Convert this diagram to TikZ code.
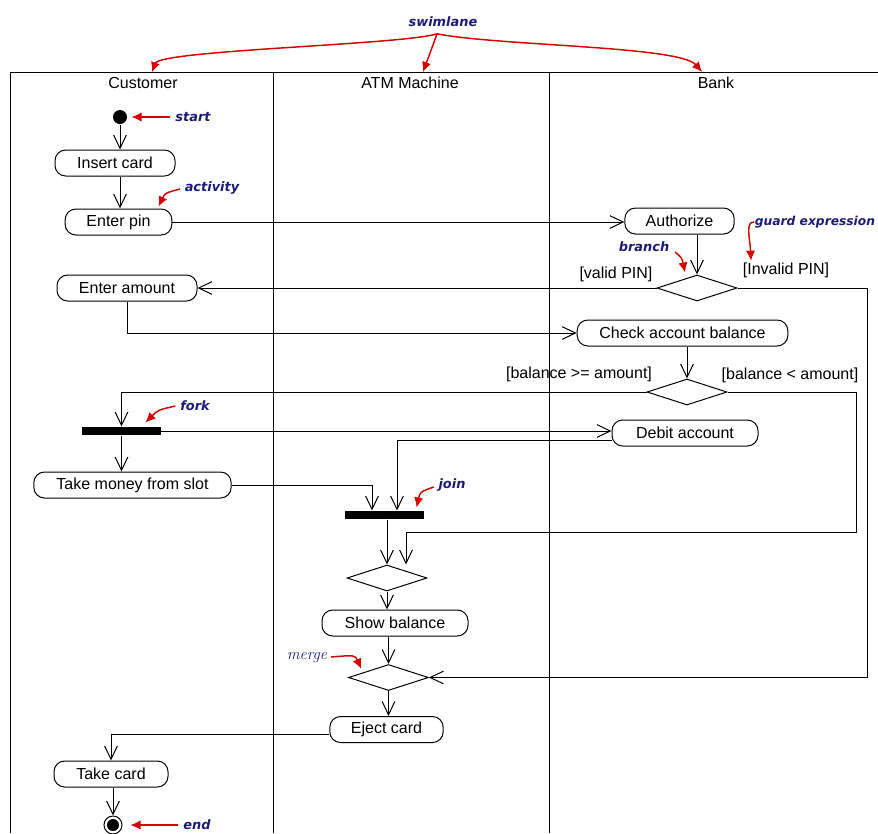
\documentclass[tikz,border=0pt]{standalone}
\usepackage{fontspec}
\setmainfont{Liberation Sans}
\newfontfamily\notefont{DejaVu Sans}
\newfontfamily\mergefont{Latin Modern Roman}
\usetikzlibrary{arrows.meta,shapes.geometric,calc}
\definecolor{notecol}{RGB}{28,28,120}
\definecolor{pointcol}{RGB}{214,0,0}

\tikzset{
  activity/.style={draw, rectangle, rounded corners=8pt, minimum height=19.5pt, inner xsep=0pt, font=\fontsize{12}{14}\selectfont},
  decision/.style={draw, diamond, minimum width=60pt, minimum height=19.5pt, inner sep=0pt},
  syncbar/.style={fill=black, minimum width=59pt, minimum height=6pt, inner sep=0pt},
  startdot/.style={circle, fill=black, minimum size=10.5pt, inner sep=0pt},
  enddot/.style={circle, draw, minimum size=13.5pt, inner sep=0pt, path picture={\fill (path picture bounding box.center) circle (4.5pt);}},
  flow/.style={-{Straight Barb[length=10pt,width=9.5pt]}},
  pointer/.style={draw=pointcol, line width=1.1pt, -{Latex[length=7.5pt,width=7pt]}},
  tag/.style={text=notecol, inner sep=1pt, font=\notefont\bfseries\itshape\fontsize{9.7}{11}\selectfont},
  guard/.style={inner sep=1pt, font=\fontsize{12}{14}\selectfont},
  lanetitle/.style={inner sep=2pt, font=\fontsize{12}{14}\selectfont},
}

\begin{document}
\begin{tikzpicture}[x=0.75pt,y=0.75pt,yscale=-1,xscale=1,line width=0.75pt]
\useasboundingbox (0,0) rectangle (878,833);

%Shape: Swimlanes
\draw (10,833) -- (10,72) -- (878,72);
\draw (273,72) -- (273,833);
\draw (549,72) -- (549,833);

% Text Node
\node[lanetitle] (customer) at (143,83) {Customer};
\node[lanetitle] (atm) at (410,83) {ATM Machine};
\node[lanetitle] (bank) at (716,83) {Bank};

%Shape: Activities
\node[startdot] (start) at (120,117) {};
\node[activity, minimum width=90pt] (insert) at (115,163) {Insert card};
\node[activity, minimum width=80pt] (pin) at (118.5,222) {Enter pin};
\node[activity, minimum width=82pt] (authorize) at (679.5,221) {Authorize};
\node[decision] (pinchk) at (697,288) {};
\node[activity, minimum width=105pt] (amount) at (127,288) {Enter amount};
\node[activity, minimum width=158pt] (check) at (682.5,333) {Check account balance};
\node[decision] (balchk) at (687,392) {};
\node[syncbar] (fork) at (121.5,431) {};
\node[activity, minimum width=109.5pt] (debit) at (685,433) {Debit account};
\node[activity, minimum width=148pt] (takemoney) at (132.5,485) {Take money from slot};
\node[syncbar] (join) at (384.5,515) {};
\node[decision] (showchk) at (387,578) {};
\node[activity, minimum width=109.5pt] (showbal) at (395,623) {Show balance};
\node[decision] (merge) at (388.5,677.5) {};
\node[activity, minimum width=85pt] (eject) at (386.5,729.5) {Eject card};
\node[activity, minimum width=85.5pt] (takecard) at (111,774) {Take card};
\node[enddot] (final) at (113,825) {};

\coordinate (invturn) at (867,677.5);
\coordinate (ltturn) at (856,532);

% Text Node
\node[guard] (validlbl) at (616,274) {[valid PIN]};
\node[guard] (invalidlbl) at (786,270) {[Invalid PIN]};
\node[guard] (geqlbl) at (579,374) {[balance >= amount]};
\node[guard] (ltlbl) at (790,375) {[balance < amount]};

%Flow Lines
\draw[flow] (start.south) -- (start.south |- insert.north);
\draw[flow] (insert.south -| start) -- (pin.north -| start);
\draw[flow] (pin.east) -- (pin.east -| authorize.west);
\draw[flow] (pinchk.north |- authorize.south) -- (pinchk.north);
\draw[flow] (pinchk.west) -- (pinchk.west -| amount.east);
\draw[flow] (pinchk.east) -| (invturn) -- (merge.east);
\draw[flow] (amount.south) |- (check.west);
\draw[flow] (balchk.north |- check.south) -- (balchk.north);
\draw[flow] (balchk.west) -| (fork.north);
\draw[flow] (balchk.east) -| (ltturn) -| ($(showchk.north)+(19,0)$);
\draw[flow] (fork.south) -- (fork.south |- takemoney.north);
\draw[flow] (fork.east) -- (fork.east -| debit.west);
\draw[flow] ($(debit.west)+(0,7)$) -| ($(join.north)+(12.5,0)$);
\draw[flow] (takemoney.east) -| ($(join.north)+(-12.5,0)$);
\draw[flow] (join.south -| showchk) -- (showchk.north);
\draw[flow] (showchk.south) -- (showchk.south |- showbal.north);
\draw[flow] (merge.north |- showbal.south) -- (merge.north);
\draw[flow] (merge.south) -- (merge.south |- eject.north);
\draw[flow] ($(eject.west)+(0,4.5)$) -| (takecard.north);
\draw[flow] (final.north |- takecard.south) -- (final.north);

% Text Node
\node[tag] (swim) at (443,22) {swimlane};
\node[tag] (starttag) at (193,117) {start};
\node[tag] (acttag) at (212,188) {activity};
\node[tag] (branchtag) at (644,247) {branch};
\node[tag, anchor=west, font=\notefont\bfseries\itshape\fontsize{9.2}{11}\selectfont] (guardtag) at (753,222) {guard expression};
\node[tag] (forktag) at (195,406) {fork};
\node[tag] (jointag) at (452,485) {join};
\node[tag, font=\mergefont\itshape\fontsize{12}{14}\selectfont] (mergetag) at (307,658) {merge};
\node[tag] (endtag) at (197,825) {end};

%Curve Lines
\draw[pointer] ($(swim.south)+(-6,5)$) .. controls (400,45) and (160,50) .. ($(customer.north)+(9,-2)$);
\draw[pointer] ($(swim.south)+(-6,5)$) .. controls (433,45) .. ($(atm.north)+(13,-2)$);
\draw[pointer] ($(swim.south)+(-6,5)$) .. controls (500,46) and (680,46) .. ($(bank.north)+(-14,-2)$);
\draw[pointer] ($(starttag.west)+(-4,0)$) -- ($(start.east)+(4,0)$);
\draw[pointer] ($(acttag.west)+(-3,1)$) .. controls (165,193) .. ($(pin.north)+(40,-2)$);
\draw[pointer] ($(branchtag.east)+(4,5)$) .. controls (682,258) .. ($(pinchk.north)+(-12,-2)$);
\draw[pointer] ($(guardtag.west)+(1,0)$) .. controls (745,222) and (750,238) .. ($(invalidlbl.north)+(-35,0)$);
\draw[pointer] ($(forktag.west)+(-3,0)$) .. controls (158,410) .. ($(fork.north)+(24,-4)$);
\draw[pointer] ($(jointag.west)+(-3,2)$) .. controls (420,492) .. ($(join.north)+(32,-3)$);
\draw[pointer] ($(mergetag.east)+(2,-1)$) .. controls (355,655) .. ($(merge.north west)+(-7,-2)$);
\draw[pointer] ($(endtag.west)+(-4,0)$) -- ($(final.east)+(8,0)$);

\end{tikzpicture}
\end{document}
